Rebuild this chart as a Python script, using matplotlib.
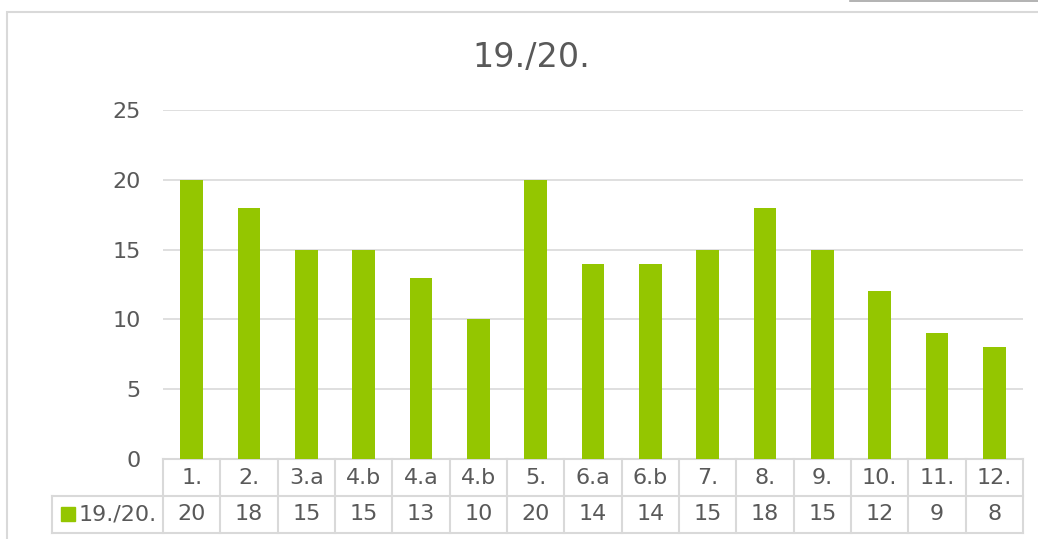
import numpy as np
import matplotlib
matplotlib.use("Agg")
import matplotlib.pyplot as plt
import matplotlib.transforms as mtransforms
from matplotlib.patches import Rectangle

categories = ["1.", "2.", "3.a", "4.b", "4.a", "4.b", "5.", "6.a", "6.b",
              "7.", "8.", "9.", "10.", "11.", "12."]
values = [20, 18, 15, 15, 13, 10, 20, 14, 14, 15, 18, 15, 12, 9, 8]
series_name = "19./20."
title = "19./20."
yticks = [0, 5, 10, 15, 20, 25]

W, H = 1038, 539
bar_color = "#94C600"
text_color = "#595959"
line_color = "#D9D9D9"

plt.rcParams["font.family"] = ["DejaVu Sans"]

fig = plt.figure(figsize=(W / 100, H / 100), dpi=100)

# chart area border (runs off the right and bottom edge)
fig.patches.append(Rectangle((7 / W, -0.1), 1.2, 1 - 12 / H + 0.1,
                             transform=fig.transFigure, fill=False,
                             edgecolor=line_color, linewidth=1.5))
fig.add_artist(plt.Line2D([850 / W, 1], [1 - 0.5 / H, 1 - 0.5 / H],
                          transform=fig.transFigure, color="#A6A6A6", lw=1.2))

ax = fig.add_axes([163 / W, 1 - 459 / H, 860 / W, 349 / H])
x = np.arange(len(categories))
ax.bar(x, values, width=0.4, color=bar_color, zorder=3)
ax.set_xlim(-0.5, len(categories) - 0.5)
ax.set_ylim(0, 25)
ax.set_yticks(yticks)
ax.set_xticks([])
ax.yaxis.grid(True, color=line_color, lw=1.2)
ax.set_axisbelow(True)
for s in ax.spines.values():
    s.set_visible(False)
ax.tick_params(axis="y", length=0, pad=16, labelsize=16, labelcolor=text_color)

fig.text(531 / W, 1 - 57 / H, title, ha="center", va="center",
         fontsize=24, color=text_color)

# data table under the axis
tr = mtransforms.blended_transform_factory(ax.transData, ax.transAxes)
ph = 349.0
r0, r1, r2 = 0.0, -37 / ph, -74 / ph
lkw = dict(color=line_color, lw=1.5, clip_on=False, transform=tr)
n = len(categories)
ax.plot([-0.5, n - 0.5], [r0, r0], **lkw)
leg_left = -0.5 - (163 - 52) / (860 / n)
ax.plot([leg_left, n - 0.5], [r1, r1], **lkw)
ax.plot([leg_left, n - 0.5], [r2, r2], **lkw)
for k in range(n + 1):
    ax.plot([k - 0.5, k - 0.5], [r0, r2], **lkw)
ax.plot([leg_left, leg_left], [r1, r2], **lkw)

for i, (c, v) in enumerate(zip(categories, values)):
    ax.text(i, (r0 + r1) / 2, c, ha="center", va="center", fontsize=16,
            color=text_color, transform=tr, clip_on=False)
    ax.text(i, (r1 + r2) / 2, str(v), ha="center", va="center", fontsize=16,
            color=text_color, transform=tr, clip_on=False)

fig.patches.append(Rectangle((61 / W, 1 - 521 / H), 14 / W, 14 / H,
                             transform=fig.transFigure, color=bar_color))
fig.text(79 / W, 1 - 514.5 / H, series_name, ha="left", va="center",
         fontsize=16, color=text_color)

fig.savefig("out.png", dpi=100)
